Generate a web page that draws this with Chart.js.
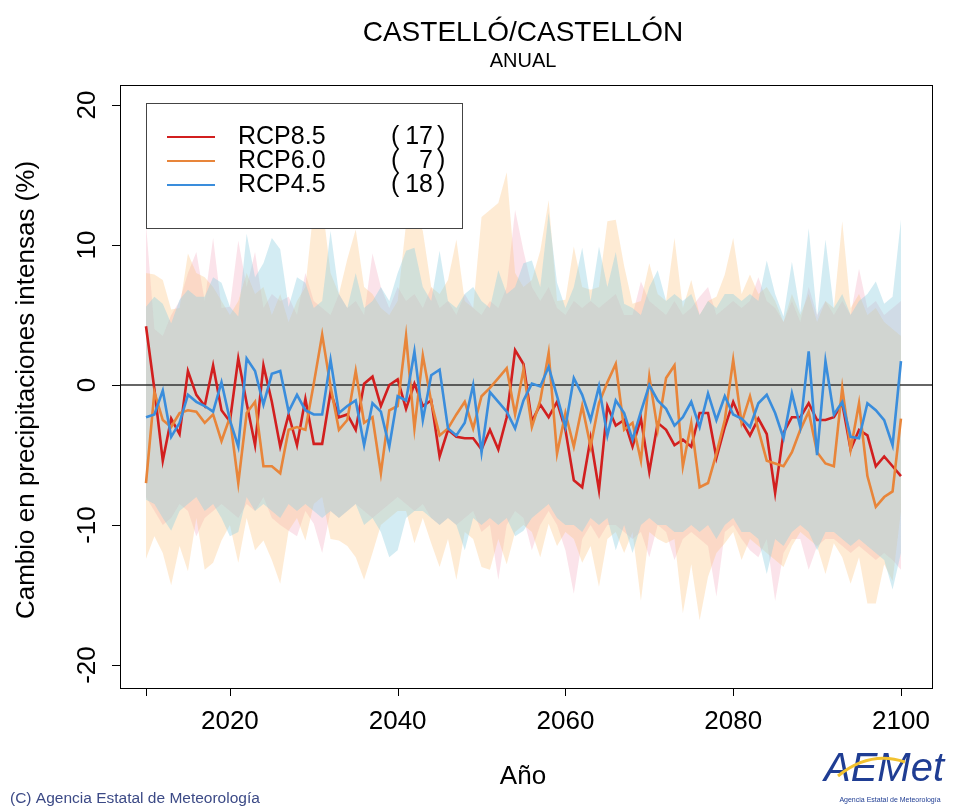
<!DOCTYPE html>
<html>
<head>
<meta charset="utf-8">
<script src="https://cdn.jsdelivr.net/npm/chart.js@4/dist/chart.umd.min.js"></script>
<style>
  html, body { margin: 0; padding: 0; background: #fff; }
  canvas { display: block; }
</style>
</head>
<body>
<canvas id="grafico" width="954" height="807"></canvas>
<script>
// años 2010..2100
var anos = []
for (var a = 2010; a <= 2100; a++) anos.push(a)

// medias de cada escenario (%)
var rcp85 = [4.2,-0.3,-5.4,-2.4,-3.5,1.0,-0.7,-1.5,1.4,-1.8,
  -2.6,1.9,-1.3,-4.3,1.4,-1.2,-4.4,-2.1,-4.3,-1.0,
  -4.2,-4.2,-0.5,-2.3,-2.1,-3.2,0.1,0.6,-1.5,0.0,
  0.4,-1.7,0.1,-1.5,-1.1,-5.1,-3.2,-3.7,-3.8,-3.8,
  -4.6,-3.2,-4.6,-2.3,2.5,1.5,-2.6,-1.4,-2.3,-1.2,
  -3.2,-6.8,-7.3,-3.8,-7.5,-1.5,-2.9,-2.5,-4.4,-2.4,
  -6.2,-2.7,-3.2,-4.3,-3.9,-4.4,-2.0,-2.0,-5.2,-3.0,
  -1.2,-2.6,-3.6,-2.4,-3.5,-7.7,-3.4,-2.3,-2.3,-1.3,
  -2.5,-2.5,-2.3,-1.3,-4.6,-3.2,-3.6,-5.8,-5.1,-5.8,-6.5]
var rcp60 = [-7.0,-0.5,-2.5,-3.0,-2.0,-1.8,-1.9,-2.7,-2.1,-4.0,
  -2.3,-7.0,-2.0,-1.2,-5.8,-5.8,-6.3,-3.2,-3.0,-3.2,
  0.1,3.6,-0.1,-3.2,-2.5,1.0,-2.7,-2.3,-6.3,-1.8,
  -1.5,3.5,-3.1,2.1,-1.2,-3.6,-3.1,-2.1,-1.2,-3.1,
  -0.8,-0.2,0.5,1.2,-2.1,1.1,-3.0,-1.1,2.3,-4.9,
  -2.0,-4.4,-1.5,-4.4,-1.3,0.2,1.5,-3.2,-2.7,-5.4,
  0.6,-3.2,0.5,1.4,-5.8,-2.7,-7.3,-7.0,-4.9,-2.5,
  1.8,-2.7,-0.8,-3.2,-5.4,-5.6,-5.8,-4.8,-3.2,-1.9,
  -4.8,-5.6,-5.8,-0.2,-4.6,-1.3,-6.5,-8.7,-8.0,-7.6,-2.4]
var rcp45 = [-2.3,-2.1,-0.4,-3.7,-2.7,-0.7,-1.2,-1.5,-1.9,0.2,
  -2.5,-4.4,1.9,1.0,-1.4,0.8,1.0,-1.9,-0.7,-1.8,
  -2.1,-2.1,1.8,-2.0,-1.5,-1.1,-4.3,-1.3,-1.9,-4.4,
  -0.8,-1.1,2.4,-2.5,0.7,1.1,-3.1,-3.6,-2.7,0.0,
  -4.8,-0.5,-1.2,-1.9,-3.1,-1.1,0.1,-0.1,1.3,-0.8,
  -3.0,0.5,-0.7,-2.5,-0.1,-3.6,-1.1,-2.0,-3.9,-1.9,
  0.0,-1.1,-1.7,-2.9,-2.3,-1.2,-3.0,-0.6,-2.5,-0.8,
  -2.1,-2.4,-3.0,-1.3,-0.7,-2.0,-3.8,-0.6,-3.0,2.4,
  -5.0,1.7,-2.1,-1.2,-3.7,-3.8,-1.3,-1.8,-2.5,-4.3,1.7]

// limites superior / inferior de cada escenario
var max85 = [11.5,4.0,3.5,5.0,6.0,8.0,9.5,6.0,10.5,5.5,
  5.6,10.3,7.0,9.5,5.5,6.5,6.0,6.3,5.0,8.0,
  6.0,5.5,5.0,6.5,5.5,6.0,5.0,9.4,7.0,5.5,
  7.0,6.0,6.5,5.5,7.0,5.5,6.0,5.0,6.5,5.5,
  5.0,6.0,5.5,7.0,12.5,9.6,7.0,6.0,7.0,5.5,
  5.0,6.0,5.5,6.0,5.5,6.0,6.5,5.0,5.0,7.4,
  6.0,5.5,5.0,6.0,5.0,5.5,6.3,7.0,5.0,5.5,
  6.0,5.5,6.0,7.7,6.0,5.5,4.5,6.0,4.5,7.0,
  5.0,6.0,5.0,6.0,5.0,8.3,5.5,6.0,5.0,5.5,6.0]
var min85 = [-8.0,-9.0,-10.0,-9.5,-8.5,-9.0,-10.8,-9.5,-9.0,-8.5,
  -9.0,-9.5,-8.5,-9.0,-8.0,-9.5,-10.0,-10.4,-10.8,-9.0,
  -9.9,-12.0,-9.0,-9.5,-9.0,-8.5,-9.0,-9.5,-9.0,-8.5,
  -8.0,-8.5,-9.0,-8.5,-9.5,-10.0,-9.5,-10.0,-9.5,-9.0,
  -10.5,-10.0,-13.9,-10.0,-9.0,-9.5,-11.8,-10.0,-9.0,-10.0,
  -11.8,-14.9,-11.0,-10.0,-11.0,-10.0,-10.0,-10.5,-11.0,-10.5,
  -12.3,-10.0,-10.5,-12.5,-11.0,-10.5,-11.0,-11.5,-15.1,-10.5,
  -10.0,-11.0,-11.8,-12.3,-11.0,-15.4,-12.0,-11.0,-11.0,-13.2,
  -11.5,-11.0,-11.0,-11.5,-12.0,-11.5,-12.0,-12.5,-12.0,-12.5,-13.2]
var max60 = [8.0,7.9,7.5,5.4,5.5,9.4,8.0,7.7,7.0,6.0,
  5.0,6.0,8.0,6.5,7.0,5.0,6.5,4.5,6.0,7.0,
  12.7,13.0,8.0,6.5,9.0,11.1,7.0,6.5,5.5,5.0,
  6.0,11.5,12.5,11.0,7.0,6.5,7.5,10.4,6.0,5.5,
  12.0,12.5,13.0,15.2,8.0,7.0,7.5,9.6,13.2,6.0,
  6.1,9.9,7.0,6.8,7.0,11.7,11.8,8.5,5.8,6.0,
  8.7,6.5,6.0,10.5,5.5,7.5,5.0,6.0,6.3,7.9,
  10.5,6.5,7.9,6.5,7.0,6.0,4.5,6.5,5.0,6.5,
  4.5,6.0,5.5,11.7,5.5,6.5,5.0,5.5,4.5,4.0,3.5]
var min60 = [-12.4,-10.8,-12.0,-14.3,-11.5,-13.3,-9.5,-13.2,-12.7,-11.1,
  -10.0,-12.7,-9.5,-11.8,-11.1,-12.5,-14.2,-10.4,-9.5,-11.1,
  -8.5,-8.0,-11.0,-11.1,-11.5,-12.3,-13.9,-12.0,-10.0,-9.5,
  -9.0,-9.0,-11.3,-9.5,-11.3,-13.0,-11.0,-13.9,-10.5,-11.0,
  -13.0,-13.2,-11.0,-12.8,-10.5,-10.0,-10.5,-12.3,-9.9,-11.5,
  -10.5,-11.0,-12.7,-11.5,-14.4,-11.0,-10.5,-12.0,-10.5,-15.4,
  -10.5,-11.0,-11.3,-11.0,-16.3,-12.8,-16.8,-13.7,-12.0,-11.3,
  -10.5,-12.5,-11.0,-11.5,-12.0,-12.5,-13.0,-11.5,-10.5,-11.0,
  -11.5,-13.5,-11.3,-12.3,-14.2,-12.3,-15.6,-15.6,-12.8,-14.0,-9.0]
var max45 = [5.6,6.3,5.8,4.4,6.1,6.8,6.3,6.3,7.7,7.3,
  5.6,4.9,10.8,7.7,8.7,10.5,9.7,5.6,7.7,7.3,
  5.5,6.0,11.0,6.5,5.5,8.0,5.5,6.0,7.0,6.0,
  8.0,9.6,9.8,7.0,6.0,9.6,6.0,5.5,6.5,7.0,
  6.0,5.5,8.2,6.5,7.0,8.7,8.9,7.0,12.3,7.3,
  5.5,7.0,9.8,6.0,9.9,7.0,9.5,5.8,5.5,5.0,
  7.0,8.2,6.0,6.5,6.0,6.5,5.0,6.0,5.5,6.5,
  6.5,6.0,6.5,6.0,8.9,6.5,4.9,8.8,5.2,11.2,
  4.8,10.4,5.5,6.5,5.0,6.0,6.5,7.4,5.8,6.3,11.8]
var min45 = [-8.2,-8.5,-9.5,-10.4,-9.0,-8.5,-8.0,-9.0,-8.5,-9.5,
  -10.8,-10.5,-8.0,-9.0,-8.5,-9.0,-9.5,-8.5,-9.0,-8.5,
  -9.0,-9.5,-9.0,-9.5,-9.0,-8.5,-10.0,-9.5,-10.5,-12.3,
  -11.8,-9.5,-9.0,-9.0,-9.5,-10.0,-9.5,-10.0,-11.8,-9.5,
  -10.0,-9.5,-10.0,-9.5,-10.8,-10.4,-9.5,-9.0,-8.5,-9.5,
  -10.0,-10.0,-10.5,-9.5,-10.0,-9.5,-11.8,-10.0,-12.0,-10.0,
  -9.5,-10.0,-10.0,-10.5,-10.5,-10.0,-10.5,-10.0,-11.0,-10.0,
  -9.5,-10.5,-10.5,-11.0,-13.5,-11.0,-11.5,-10.5,-10.0,-10.5,
  -11.8,-10.5,-10.5,-11.0,-11.5,-11.0,-11.5,-12.0,-12.5,-14.6,-12.0]

var escenarios = ["RCP8.5", "RCP6.0", "RCP4.5"]
var nModelos = [17, 7, 18]
var ticksX = [2020, 2040, 2060, 2080, 2100]
var ticksY = [-20, -10, 0, 10, 20]

var colLinea = ["#d21f1f", "#e8853a", "#3a8ddc"]
var colBanda = ["rgba(244,168,190,0.32)", "rgba(252,196,128,0.34)", "rgba(146,208,226,0.4)"]

function pts(v){
  return anos.map(function(a, i){ return {x: a, y: v[i]} })
}

var ds = []
var medias = [rcp85, rcp60, rcp45]
var maxs = [max85, max60, max45]
var mins = [min85, min60, min45]
// lineas (encima)
for (var k = 0; k < 3; k++) {
  ds.push({label: escenarios[k], data: pts(medias[k]), borderColor: colLinea[k], borderWidth: 2.6,
    pointRadius: 0, fill: false, tension: 0, order: 3 - k})
}
// bandas
for (var k = 0; k < 3; k++) {
  ds.push({label: "max" + k, data: pts(maxs[k]), borderWidth: 0, borderColor: "rgba(0,0,0,0)",
    backgroundColor: colBanda[k], pointRadius: 0, fill: "+1", tension: 0, order: 6 - k})
  ds.push({label: "min" + k, data: pts(mins[k]), borderWidth: 0, borderColor: "rgba(0,0,0,0)",
    pointRadius: 0, fill: false, tension: 0, order: 6 - k})
}

var FUENTE = "'Liberation Sans', Arial, sans-serif"
var ceroHecho = false

var dibujo = {
  id: "dibujo",
  beforeDraw: function(chart){ ceroHecho = false },
  beforeDatasetDraw: function(chart, args){
    if (ceroHecho || args.meta.label !== "RCP8.5") return
    ceroHecho = true
    var c = chart.ctx, a = chart.chartArea, y0 = chart.scales.y.getPixelForValue(0)
    c.save()
    c.strokeStyle = "#333"
    c.lineWidth = 1.4
    c.beginPath(); c.moveTo(a.left, y0); c.lineTo(a.right, y0); c.stroke()
    c.restore()
  },
  afterDraw: function(chart){
    var c = chart.ctx, a = chart.chartArea
    var sx = chart.scales.x, sy = chart.scales.y
    c.save()
    // marco
    c.strokeStyle = "#000"
    c.lineWidth = 1
    c.strokeRect(a.left + 0.5, a.top + 0.5, a.right - a.left, a.bottom - a.top)
    c.fillStyle = "#000"
    c.font = "26px " + FUENTE
    // eje x
    c.textAlign = "center"
    c.textBaseline = "middle"
    var x0 = sx.getPixelForValue(2010), x1 = sx.getPixelForValue(2100)
    c.beginPath()
    c.moveTo(x0, a.bottom + 0.5); c.lineTo(x1, a.bottom + 0.5)
    ;[2010].concat(ticksX).forEach(function(t){
      var px = Math.round(sx.getPixelForValue(t)) + 0.5
      c.moveTo(px, a.bottom); c.lineTo(px, a.bottom + 8)
    })
    c.stroke()
    ticksX.forEach(function(t){
      c.fillText(String(t), sx.getPixelForValue(t), 722)
    })
    // eje y
    c.beginPath()
    ticksY.forEach(function(t){
      var py = Math.round(sy.getPixelForValue(t)) + 0.5
      c.moveTo(a.left - 8, py); c.lineTo(a.left, py)
    })
    c.stroke()
    ticksY.forEach(function(t){
      c.save()
      c.translate(88, sy.getPixelForValue(t))
      c.rotate(-Math.PI / 2)
      c.fillText(String(t), 0, 0)
      c.restore()
    })
    // titulos
    c.font = "28px " + FUENTE
    c.fillText("CASTELLÓ/CASTELLÓN", 523, 33)
    c.font = "20px " + FUENTE
    c.fillText("ANUAL", 523, 61)
    c.font = "26px " + FUENTE
    c.fillText("Año", 523, 777)
    c.save()
    c.translate(27, 390)
    c.rotate(-Math.PI / 2)
    c.fillText("Cambio en precipitaciones intensas (%)", 0, 0)
    c.restore()
    // leyenda
    c.fillStyle = "#fff"
    c.fillRect(146, 103, 316, 125)
    c.strokeStyle = "#444"
    c.strokeRect(146.5, 103.5, 316, 125)
    c.font = "25px " + FUENTE
    for (var k = 0; k < 3; k++) {
      var ly = 137 + k * 24
      c.strokeStyle = colLinea[k]
      c.lineWidth = 2
      c.beginPath(); c.moveTo(167, ly); c.lineTo(215, ly); c.stroke()
      c.fillStyle = "#000"
      c.textAlign = "left"
      c.fillText(escenarios[k], 238, ly)
      c.fillText("(", 391, ly)
      c.textAlign = "right"
      c.fillText(String(nModelos[k]), 433, ly)
      c.textAlign = "left"
      c.fillText(")", 437, ly)
    }
    // pie
    c.fillStyle = "#3c4a86"
    c.font = "15.5px " + FUENTE
    c.textAlign = "left"
    c.fillText("(C) Agencia Estatal de Meteorología", 10, 799)
    // logo AEMet
    c.font = "italic 40px " + FUENTE
    c.fillStyle = "#1f3d93"
    c.textAlign = "center"
    c.fillText("AEMet", 884, 770)
    c.strokeStyle = "#f2c230"
    c.lineWidth = 3
    c.beginPath(); c.moveTo(838, 776); c.quadraticCurveTo(870, 750, 905, 762); c.stroke()
    c.font = "7px " + FUENTE
    c.fillStyle = "#1f3d93"
    c.fillText("Agencia Estatal de Meteorología", 890, 800)
    c.restore()
  }
}

new Chart(document.getElementById("grafico"), {
  type: "line",
  data: {datasets: ds},
  options: {
    responsive: false,
    animation: false,
    devicePixelRatio: 1,
    layout: {padding: {left: 120, right: 22, top: 85, bottom: 119}},
    plugins: {legend: {display: false}, tooltip: {enabled: false}},
    scales: {
      x: {type: "linear", min: 2006.9, max: 2103.7, display: false},
      y: {type: "linear", min: -21.64, max: 21.43, display: false}
    }
  },
  plugins: [dibujo]
})
</script>
</body>
</html>
